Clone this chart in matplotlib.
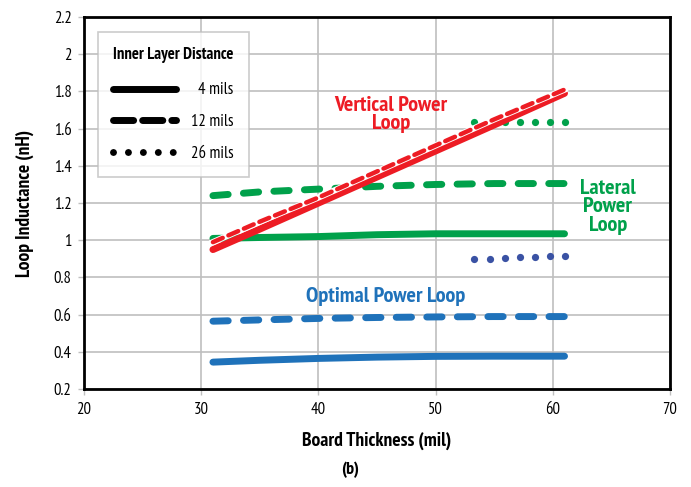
import matplotlib

matplotlib.use("Agg")
import matplotlib.pyplot as plt
from matplotlib.lines import Line2D

plt.rcParams["font.family"] = ["PT Sans Narrow", "Roboto Condensed", "DejaVu Sans"]

# board thickness (mil)
x_full = [31, 35, 40, 45, 50, 55, 61]
x_dots = [53.3, 54.6, 55.9, 57.2, 58.5, 59.8, 61.0]

# vertical power loop (red)
vert_4 = [0.95, 1.06, 1.20, 1.34, 1.48, 1.62, 1.79]
vert_12 = [0.99, 1.10, 1.23, 1.37, 1.51, 1.65, 1.81]

# lateral power loop (green)
lat_4 = [1.01, 1.015, 1.02, 1.03, 1.035, 1.035, 1.035]
lat_12 = [1.24, 1.26, 1.275, 1.29, 1.30, 1.305, 1.305]
lat_26 = [1.635, 1.635, 1.635, 1.635, 1.635, 1.635, 1.635]

# optimal power loop (blue)
opt_4 = [0.345, 0.355, 0.365, 0.372, 0.376, 0.377, 0.377]
opt_12 = [0.565, 0.572, 0.58, 0.585, 0.588, 0.59, 0.59]
opt_26 = [0.899, 0.902, 0.905, 0.908, 0.911, 0.913, 0.915]

legend_labels = ["  4 mils", "12 mils", "26 mils"]

RED = "#ED1C24"
GREEN = "#00A14B"
BLUE = "#1F72BA"
DARKBLUE = "#3A52A4"
GRID = "#BFBFBF"

fig = plt.figure(figsize=(6.91, 4.87), dpi=100)
ax = fig.add_axes([0.1216, 0.201, 0.848, 0.764])

dash = (2.2, 2.2)


def draw(x, y, color, style, lw=5, z=3):
    kw = dict(color=color, lw=lw, solid_capstyle="round", dash_capstyle="round", zorder=z)
    if style == "solid":
        ax.plot(x, y, "-", **kw)
    elif style == "dots":
        ax.plot(x, y, "o", color=color, ms=5.2, mew=0, zorder=z)
    else:
        ax.plot(x, y, "-", dashes=style, **kw)


draw(x_full, lat_4, GREEN, "solid")
draw(x_full, lat_12, GREEN, dash)
draw(x_dots, lat_26, GREEN, "dots")
draw(x_full, vert_4, RED, "solid", z=4)
ax.plot(x_full, vert_12, color="white", lw=4.5, zorder=4.5)
draw(x_full, vert_12, RED, (2.4, 1.4), lw=3.2, z=5)
draw(x_full, opt_4, BLUE, "solid")
draw(x_full, opt_12, BLUE, dash)
draw(x_dots, opt_26, DARKBLUE, "dots")

ax.set_xlim(20, 70)
ax.set_ylim(0.2, 2.2)
ax.set_xticks([20, 30, 40, 50, 60, 70])
ax.set_yticks([0.2, 0.4, 0.6, 0.8, 1.0, 1.2, 1.4, 1.6, 1.8, 2.0, 2.2])
ax.set_yticklabels(["0.2", "0.4", "0.6", "0.8", "1", "1.2", "1.4", "1.6", "1.8", "2", "2.2"])
ax.grid(True, color=GRID, lw=1.2, zorder=0)
ax.set_axisbelow(True)
for s in ax.spines.values():
    s.set_linewidth(2)
    s.set_color("black")
ax.tick_params(axis="both", labelsize=12, length=4, width=1, color=GRID, pad=5)

ax.set_xlabel("Board Thickness (mil)", fontsize=14, fontweight="bold", labelpad=10)
ax.set_ylabel("Loop Inductance (nH)", fontsize=14, fontweight="bold", labelpad=14)
fig.text(0.506, 0.035, "(b)", ha="center", va="center", fontsize=13, fontweight="bold")

ax.text(46.2, 1.675, "Vertical Power\nLoop", color=RED, fontsize=16, fontweight="bold",
        ha="center", va="center", linespacing=0.95, zorder=6)
ax.text(64.7, 1.18, "Lateral\nPower\nLoop", color=GREEN, fontsize=16, fontweight="bold",
        ha="center", va="center", linespacing=0.95, zorder=6)
ax.text(45.7, 0.70, "Optimal Power Loop", color=BLUE, fontsize=16, fontweight="bold",
        ha="center", va="center", zorder=6)

handles = [
    Line2D([], [], color="black", lw=5, solid_capstyle="round"),
    Line2D([], [], color="black", lw=5, dashes=(2.9, 1.3), dash_capstyle="round"),
    Line2D([], [], color="black", lw=5, dashes=(0.001, 2.15), dash_capstyle="round"),
]
leg = ax.legend(handles, legend_labels, title="Inner Layer Distance",
                loc="upper left", bbox_to_anchor=(0.024, 0.96), borderaxespad=0,
                handlelength=3.8, fontsize=12,
                title_fontproperties={"weight": "bold", "size": 12},
                frameon=True, fancybox=False, edgecolor=GRID, borderpad=0.9,
                labelspacing=0.95, handletextpad=0.9)
leg.get_frame().set_linewidth(1.2)
leg.set_zorder(7)
leg._legend_box.sep = 14

fig.savefig("out.png", dpi=100)
